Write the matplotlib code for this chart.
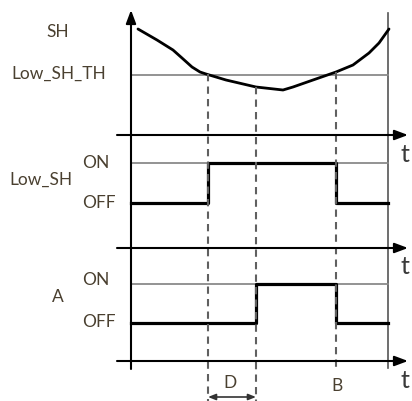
import matplotlib
matplotlib.use("Agg")
import matplotlib.pyplot as plt

plt.rcParams['font.family'] = ['Lato', 'DejaVu Sans']

# SH curve (time, level) - diagram units, y grows downward
sh_t = [138, 157, 173, 182, 192, 200, 206, 226, 256, 283, 293, 313, 336, 353, 369, 379, 389]
sh_y = [29, 40, 50, 58, 67, 72, 74, 80, 87, 90, 87, 80, 72, 65, 53, 43, 29]
low_sh_th = 75

# event times
t_on = 208      # SH drops below Low_SH_TH
t_delay = 256   # end of delay D
t_off = 336     # SH back above threshold (B)
t_end = 388

# Low_SH and A states over time
low_sh_t = [131, t_on, t_on, t_off, t_off, t_end]
low_sh_state = [0, 0, 1, 1, 0, 0]
a_t = [131, t_delay, t_delay, t_off, t_off, t_end]
a_state = [0, 0, 1, 1, 0, 0]

# panel levels (OFF, ON) and time axes
low_sh_levels = (203, 163)
a_levels = (323, 284)
time_axes = [135, 248, 361]

fig = plt.figure(figsize=(4.12, 4.01), dpi=100)
ax = fig.add_axes([0, 0, 1, 1])
ax.set_xlim(0, 412)
ax.set_ylim(401, 0)
ax.axis("off")

txt = dict(color="#4a4030", fontsize=12.5, va="center", ha="center")
lw_axis = 1.5

# vertical axis
ax.annotate("", xy=(131, 10), xytext=(131, 369),
            arrowprops=dict(arrowstyle="-|>,head_length=0.8,head_width=0.3",
                            color="black", lw=lw_axis, shrinkA=0, shrinkB=0))
# right border line
ax.plot([t_end, t_end], [13, 368], color="#555555", lw=1.2)

# time axes
for y in time_axes:
    ax.annotate("", xy=(408, y), xytext=(117, y),
                arrowprops=dict(arrowstyle="-|>,head_length=0.8,head_width=0.3",
                                color="black", lw=lw_axis, shrinkA=0, shrinkB=0))
    ax.text(405, y + 19, "t", color="#3a3a3a", fontsize=18, ha="center", va="center")

# top panel
ax.plot([131, t_end], [low_sh_th, low_sh_th], color="#8a8a8a", lw=1.3)
ax.plot(sh_t, sh_y, color="black", lw=2, solid_capstyle="round", solid_joinstyle="round")
ax.text(58, 32, "SH", **txt)
ax.text(59, 74, "Low_SH_TH", **txt)

# Low_SH panel
off, on = low_sh_levels
ax.plot([131, t_end], [on, on], color="#8a8a8a", lw=1.3)
ax.plot(low_sh_t, [off + s * (on - off) for s in low_sh_state], color="black", lw=2.3)
ax.text(41, 180, "Low_SH", **txt)
ax.text(96, 163, "ON", **txt)
ax.text(99, 203, "OFF", **txt)

# A panel
off, on = a_levels
ax.plot([131, t_end], [on, on], color="#8a8a8a", lw=1.3)
ax.plot(a_t, [off + s * (on - off) for s in a_state], color="black", lw=2.3)
ax.text(58, 297, "A", **txt)
ax.text(96, 280, "ON", **txt)
ax.text(99, 322, "OFF", **txt)

# dashed event lines
dash = dict(color="#606060", lw=1.5, ls=(0, (3.5, 2.5)))
ax.plot([t_on, t_on], [74, 401], **dash)
ax.plot([t_delay, t_delay], [87, 401], **dash)
ax.plot([t_off, t_off], [72, 370], **dash)

# D interval and B marker
ax.annotate("", xy=(t_on, 397), xytext=(t_delay, 397),
            arrowprops=dict(arrowstyle="<|-|>,head_length=0.45,head_width=0.18",
                            color="#333333", lw=1.2, shrinkA=0, shrinkB=0))
ax.text(230, 383, "D", **txt)
ax.text(337, 386, "B", **txt)

fig.savefig("out.png", dpi=100)
